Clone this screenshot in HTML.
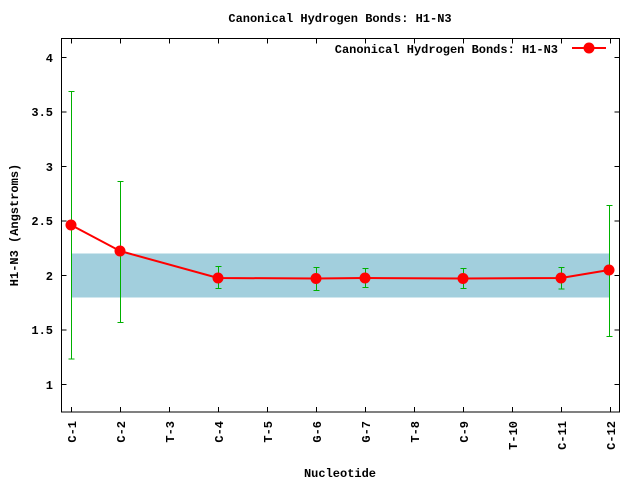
<!DOCTYPE html>
<html><head><style>body{margin:0;background:#fff}svg{display:block}text{font-family:"Liberation Mono",monospace;font-weight:bold;font-size:12px;fill:#000}</style></head><body>
<svg width="640" height="480" xmlns="http://www.w3.org/2000/svg">
<rect x="71" y="253.5" width="538" height="44" fill="#a2cfdd"/>
<text x="340" y="22" text-anchor="middle">Canonical Hydrogen Bonds: H1-N3</text>
<g stroke="#000" stroke-width="1" fill="none">
<rect x="61.5" y="38.5" width="558" height="373.5"/>
<path d="M61.5 57.5h5M619.5 57.5h-5M61.5 112h5M619.5 112h-5M61.5 166.5h5M619.5 166.5h-5M61.5 221h5M619.5 221h-5M61.5 275.5h5M619.5 275.5h-5M61.5 330h5M619.5 330h-5M61.5 384.5h5M619.5 384.5h-5"/>
<path d="M71.5 412v-5M71.5 38.5v5M120.5 412v-5M120.5 38.5v5M169.5 412v-5M169.5 38.5v5M218.5 412v-5M218.5 38.5v5M267.5 412v-5M267.5 38.5v5M316.5 412v-5M316.5 38.5v5M365.5 412v-5M365.5 38.5v5M414.5 412v-5M414.5 38.5v5M463.5 412v-5M463.5 38.5v5M512.5 412v-5M512.5 38.5v5M561.5 412v-5M561.5 38.5v5M610.5 412v-5M610.5 38.5v5"/>
</g>
<g text-anchor="end">
<text x="53" y="62">4</text><text x="53" y="116">3.5</text><text x="53" y="171">3</text><text x="53" y="225">2.5</text><text x="53" y="280">2</text><text x="53" y="334">1.5</text><text x="53" y="389">1</text>
</g>
<g text-anchor="end">
<text transform="translate(76,421) rotate(-90)">C-1</text>
<text transform="translate(125,421) rotate(-90)">C-2</text>
<text transform="translate(174,421) rotate(-90)">T-3</text>
<text transform="translate(223,421) rotate(-90)">C-4</text>
<text transform="translate(272,421) rotate(-90)">T-5</text>
<text transform="translate(321,421) rotate(-90)">G-6</text>
<text transform="translate(370,421) rotate(-90)">G-7</text>
<text transform="translate(419,421) rotate(-90)">T-8</text>
<text transform="translate(468,421) rotate(-90)">C-9</text>
<text transform="translate(517,421) rotate(-90)">T-10</text>
<text transform="translate(566,421) rotate(-90)">C-11</text>
<text transform="translate(615,421) rotate(-90)">C-12</text>
</g>
<text x="340" y="477" text-anchor="middle">Nucleotide</text>
<text transform="translate(18,225) rotate(-90)" text-anchor="middle">H1-N3 (Angstroms)</text>
<g stroke="#00b000" stroke-width="1">
<path d="M71.5 91.5V359M68.5 91.5h6M68.5 359h6"/>
<path d="M120.5 181.5V322.5M117.5 181.5h6M117.5 322.5h6"/>
<path d="M218.5 266.5V288.5M215.5 266.5h6M215.5 288.5h6"/>
<path d="M316.5 267.5V290.5M313.5 267.5h6M313.5 290.5h6"/>
<path d="M365.5 268.5V287.5M362.5 268.5h6M362.5 287.5h6"/>
<path d="M463.5 268.5V288.5M460.5 268.5h6M460.5 288.5h6"/>
<path d="M561.5 267.5V289M558.5 267.5h6M558.5 289h6"/>
<path d="M609.5 205.5V336.5M606.5 205.5h6M606.5 336.5h6"/>
</g>
<g fill="#ff0000">
<polyline points="71,225 120,251 218,278 316,278.5 365,278 463,278.5 561,278 609,270" fill="none" stroke="#ff0000" stroke-width="2"/>
<circle cx="71" cy="225" r="5.5"/><circle cx="120" cy="251" r="5.5"/><circle cx="218" cy="278" r="5.5"/><circle cx="316" cy="278.5" r="5.5"/><circle cx="365" cy="278" r="5.5"/><circle cx="463" cy="278.5" r="5.5"/><circle cx="561" cy="278" r="5.5"/><circle cx="609" cy="270" r="5.5"/>
<text x="558" y="53" text-anchor="end" style="fill:#000">Canonical Hydrogen Bonds: H1-N3</text>
<path d="M572 48h34" stroke="#ff0000" stroke-width="2"/><circle cx="589" cy="48" r="5.5"/>
</g>
</svg>
</body></html>
